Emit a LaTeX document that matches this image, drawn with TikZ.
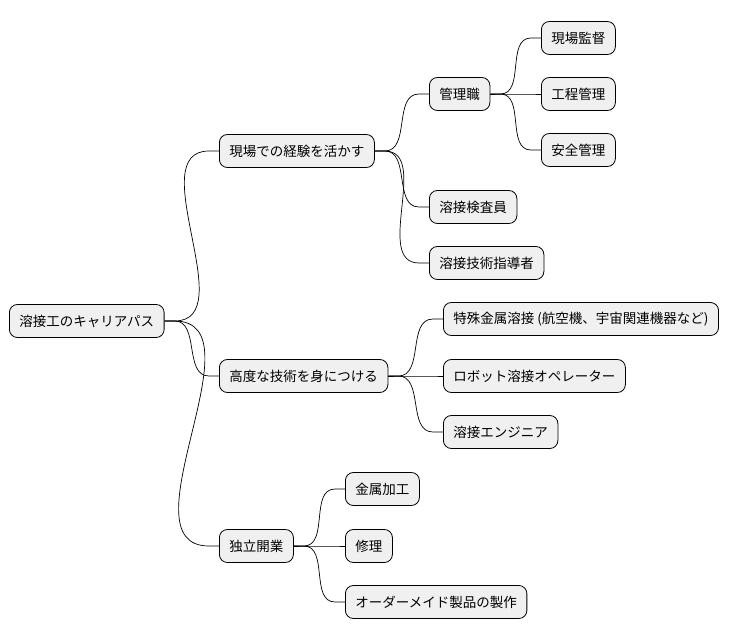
\documentclass[tikz,border=0pt]{standalone}
\usepackage{fontspec}
\setmainfont{Noto Sans CJK JP}
\begin{document}
\begin{tikzpicture}[x=1pt,y=-1pt,
  topic/.style={draw=black,fill=black!6,rounded corners=8pt,line width=.8pt,
    minimum height=33pt,inner xsep=10pt,anchor=west,font=\fontsize{13.5pt}{16pt}\selectfont},
  link/.style={line width=.7pt}]
\useasboundingbox (0,0) rectangle (742,640);
% level 0 and 1
\node[topic] (root) at (9,321) {溶接工のキャリアパス};
\node[topic] (site) at (219,151) {現場での経験を活かす};
\node[topic] (skill) at (219,376) {高度な技術を身につける};
\node[topic] (indep) at (219,546) {独立開業};
% level 2
\node[topic] (mgr) at (429,94) {管理職};
\node[topic] (insp) at (429,207) {溶接検査員};
\node[topic] (teach) at (429,263) {溶接技術指導者};
\node[topic] (boss) at (541,38) {現場監督};
\node[topic] (proc) at (541,94) {工程管理};
\node[topic] (safe) at (541,150) {安全管理};
\node[topic] (metal) at (443,319) {特殊金属溶接 (航空機、宇宙関連機器など)};
\node[topic] (robot) at (443,376) {ロボット溶接オペレーター};
\node[topic] (eng) at (443,432) {溶接エンジニア};
\node[topic] (work) at (345,489) {金属加工};
\node[topic] (fix) at (345,546) {修理};
\node[topic] (order) at (345,602) {オーダーメイド製品の製作};
% connectors
\foreach \p/\c in {root/site,root/skill,root/indep,site/mgr,site/insp,site/teach,
  mgr/boss,mgr/proc,mgr/safe,skill/metal,skill/robot,skill/eng,
  indep/work,indep/fix,indep/order}{
  \draw[link] (\p.east) -- ++(10,0) to[out=0,in=180] ([xshift=-10pt]\c.west) -- (\c.west);
}
\end{tikzpicture}
\end{document}
